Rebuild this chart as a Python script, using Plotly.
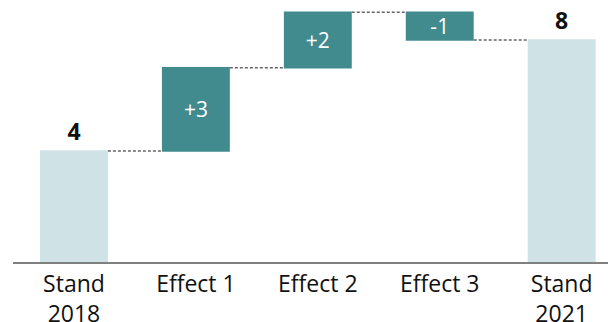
import plotly.graph_objects as go

# Waterfall data
categories = ["Stand<br>2018", "Effect 1", "Effect 2", "Effect 3", "Stand<br>2021"]
measures = ["absolute", "relative", "relative", "relative", "total"]
values = [4, 3, 2, -1, 8]

TEAL = "#418b8f"
LIGHT = "#cfe2e6"


def label(v, m):
    if m == "relative":
        return f"+{v}" if v > 0 else f"{v}"
    return f"<span style='font-size:23px'><b>{v}</b></span>"


labels = [label(v, m) for v, m in zip(values, measures)]
positions = ["inside" if m == "relative" else "outside" for m in measures]

fig = go.Figure(
    go.Waterfall(
        x=categories,
        y=values,
        measure=measures,
        text=labels,
        textposition=positions,
        textangle=0,
        constraintext="none",
        cliponaxis=False,
        insidetextanchor="middle",
        insidetextfont=dict(family="Open Sans", size=21, color="white"),
        outsidetextfont=dict(family="Open Sans", size=21, color="#111111"),
        increasing=dict(marker=dict(color=TEAL)),
        decreasing=dict(marker=dict(color=TEAL)),
        totals=dict(marker=dict(color=LIGHT)),
        connector=dict(mode="between", line=dict(color="#666666", width=1.5, dash="3px,2px")),
        hoverinfo="skip",
    )
)

fig.update_layout(
    width=608,
    height=322,
    margin=dict(l=13, r=0, t=0, b=60),
    paper_bgcolor="white",
    plot_bgcolor="white",
    showlegend=False,
    waterfallgap=0.443,
    uniformtext=dict(minsize=21, mode="show"),
    font=dict(family="Open Sans", color="#111111"),
    xaxis=dict(
        range=[-0.5, 4.38],
        automargin=False,
        showline=True,
        linecolor="#808080",
        linewidth=2,
        showgrid=False,
        zeroline=False,
        ticks="",
        ticklabelstandoff=0,
        tickfont=dict(family="Open Sans", size=23, color="#111111"),
        fixedrange=True,
    ),
    yaxis=dict(
        range=[0, 9.44],
        visible=False,
        showgrid=False,
        zeroline=False,
        fixedrange=True,
    ),
)

fig.write_html("out.html")
